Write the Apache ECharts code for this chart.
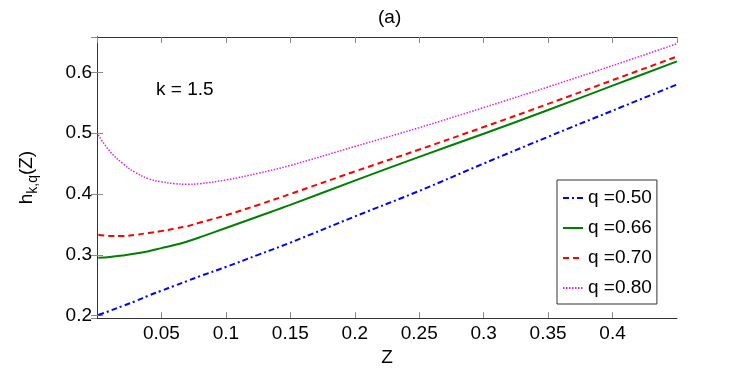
<!DOCTYPE html>
<html>
<head>
<meta charset="utf-8">
<script src="https://cdn.jsdelivr.net/npm/echarts@6/dist/echarts.min.js"></script>
<style>
  html, body { margin: 0; padding: 0; background: #fff; }
  #chart { width: 747px; height: 372px; }
</style>
</head>
<body>
<div id="chart"></div>
<script>
// Z values shared by every curve
var zs = [0.001, 0.01, 0.02, 0.03, 0.04, 0.05, 0.06, 0.07, 0.08, 0.1, 0.125, 0.15, 0.2, 0.25, 0.3, 0.35, 0.4, 0.45];

// h_{k,q}(Z) for k = 1.5
var q050 = [0.201, 0.208, 0.216, 0.224, 0.233, 0.241, 0.249, 0.257, 0.265, 0.280, 0.300, 0.320, 0.363, 0.405, 0.450, 0.494, 0.537, 0.580];
var q066 = [0.295, 0.2965, 0.299, 0.302, 0.306, 0.311, 0.316, 0.322, 0.329, 0.344, 0.363, 0.382, 0.422, 0.461, 0.499, 0.538, 0.578, 0.618];
var q070 = [0.333, 0.331, 0.331, 0.333, 0.336, 0.339, 0.343, 0.347, 0.353, 0.365, 0.382, 0.400, 0.437, 0.473, 0.510, 0.548, 0.587, 0.626];
var q080 = [0.497, 0.470, 0.450, 0.435, 0.425, 0.420, 0.417, 0.416, 0.417, 0.423, 0.434, 0.447, 0.478, 0.509, 0.542, 0.576, 0.611, 0.647];

var names = ['q =0.50', 'q =0.66', 'q =0.70', 'q =0.80'];

function pairs(ys) {
  return zs.map(function (z, i) { return [z, ys[i]]; });
}

var font = 'Liberation Sans, Arial, sans-serif';

var chart = echarts.init(document.getElementById('chart'));

var xBase = {
  type: 'value', min: 0, max: 0.45, interval: 0.05,
  axisLine: { lineStyle: { color: '#333', width: 1 } },
  axisTick: { inside: true, length: 6, lineStyle: { color: '#888' } },
  splitLine: { show: false }
};
var yBase = {
  type: 'value', min: 0.196, max: 0.658, splitNumber: 5,
  axisLine: { show: true, lineStyle: { color: '#333', width: 1 } },
  axisTick: { show: true, inside: true, length: 6, lineStyle: { color: '#888' } },
  splitLine: { show: false }
};

var option = {
  animation: false,
  backgroundColor: '#fff',
  title: {
    text: '(a)', left: 373, top: 3,
    textStyle: { fontFamily: font, fontSize: 19, fontWeight: 'normal', color: '#000' }
  },
  grid: { left: 97, right: 70, top: 37, bottom: 47 },
  legend: {
    orient: 'vertical', left: 557, top: 180,
    data: names,
    itemWidth: 20, itemHeight: 14, itemGap: 8,
    padding: [7, 5, 5, 5],
    borderColor: '#333', borderWidth: 1, backgroundColor: '#fff',
    itemStyle: { opacity: 0 },
    textStyle: { fontFamily: font, fontSize: 19, color: '#000', lineHeight: 22 }
  },
  xAxis: [
    Object.assign({}, xBase, {
      position: 'bottom',
      name: 'Z', nameLocation: 'middle', nameGap: 27,
      nameTextStyle: { fontFamily: font, fontSize: 19, color: '#000' },
      axisLabel: {
        fontFamily: font, fontSize: 19, color: '#000', margin: 6,
        showMinLabel: false, showMaxLabel: false
      }
    }),
    Object.assign({}, xBase, { position: 'top', axisLabel: { show: false } })
  ],
  yAxis: [
    Object.assign({}, yBase, {
      position: 'left',
      name: '{m|h}{s|k,q}{m|(Z)}', nameLocation: 'middle', nameGap: 57,
      nameTextStyle: {
        fontFamily: font, color: '#000',
        rich: {
          m: { fontFamily: font, fontSize: 19, color: '#000' },
          s: { fontFamily: font, fontSize: 14, color: '#000', padding: [12, 0, 0, 0] }
        }
      },
      axisLabel: {
        fontFamily: font, fontSize: 19, color: '#000', margin: 5,
        showMinLabel: false, showMaxLabel: false,
        formatter: function (v) { return (Math.round(v * 10) / 10).toString(); }
      }
    }),
    Object.assign({}, yBase, { position: 'right', axisLabel: { show: false } })
  ],
  graphic: [{
    type: 'text', left: 156, top: 80,
    style: { text: 'k = 1.5', fontFamily: font, fontSize: 19, fill: '#000' }
  }],
  series: [
    { name: names[0], type: 'line', data: pairs(q050), symbol: 'none', smooth: 0.4,
      lineStyle: { color: '#0000ff', width: 2, type: [6, 3, 2, 3] }, itemStyle: { color: '#0000ff' } },
    { name: names[1], type: 'line', data: pairs(q066), symbol: 'none', smooth: 0.4,
      lineStyle: { color: '#008000', width: 2, type: 'solid' }, itemStyle: { color: '#008000' } },
    { name: names[2], type: 'line', data: pairs(q070), symbol: 'none', smooth: 0.4,
      lineStyle: { color: '#ff0000', width: 2, type: [6, 4] }, itemStyle: { color: '#ff0000' } },
    { name: names[3], type: 'line', data: pairs(q080), symbol: 'none', smooth: 0.4,
      lineStyle: { color: '#dd22dd', width: 1.5, type: [1.5, 1.5] }, itemStyle: { color: '#dd22dd' } }
  ]
};

chart.setOption(option);
</script>
</body>
</html>
